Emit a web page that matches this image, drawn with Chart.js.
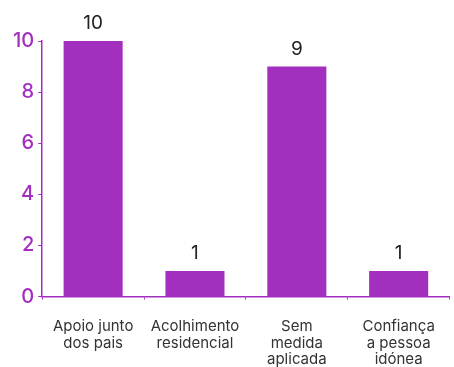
<!DOCTYPE html>
<html><head><meta charset="utf-8">
<script src="https://cdn.jsdelivr.net/npm/chart.js@4.4.0/dist/chart.umd.min.js"></script>
<style>html,body{margin:0;padding:0;background:#fff;}canvas{display:block;}</style>
</head><body>
<canvas id="c" width="454" height="367"></canvas>
<script>
const categories = [["Apoio junto","dos pais"],["Acolhimento","residencial"],["Sem","medida","aplicada"],["Confiança","a pessoa","idónea"]];
const values = [10, 1, 9, 1];
const yTicks = [0, 2, 4, 6, 8, 10];

const purple = '#A32FBF';
const valueLabels = {
  id: 'valueLabels',
  afterDatasetsDraw(chart) {
    const ctx = chart.ctx;
    const meta = chart.getDatasetMeta(0);
    ctx.save();
    ctx.font = '19px Inter';
    ctx.fillStyle = '#222';
    ctx.textAlign = 'center';
    ctx.textBaseline = 'bottom';
    meta.data.forEach((bar, i) => {
      ctx.fillText(String(values[i]), bar.x, bar.y - 8);
    });
    ctx.restore();
  }
};

new Chart(document.getElementById('c'), {
  type: 'bar',
  data: {
    labels: categories,
    datasets: [{ data: values, backgroundColor: purple, barPercentage: 0.58, categoryPercentage: 1 }]
  },
  options: {
    responsive: false,
    animation: false,
    layout: { padding: { top: 41, left: 9, right: 1, bottom: -20 } },
    plugins: { legend: { display: false }, tooltip: { enabled: false } },
    scales: {
      x: {
        grid: { drawOnChartArea: false, drawTicks: true, tickLength: 3, color: purple, offset: true },
        border: { display: true, color: purple, width: 1.5 },
        ticks: { color: '#333', font: { family: 'Inter', size: 15, lineHeight: 1.1 }, padding: 19, maxRotation: 0, autoSkip: false }
      },
      y: {
        min: 0, max: 10,
        afterBuildTicks(axis) { axis.ticks = yTicks.map(v => ({ value: v })); },
        grid: { drawOnChartArea: false, drawTicks: true, tickLength: 4, color: purple },
        border: { display: true, color: purple, width: 1.5 },
        ticks: { color: purple, font: { family: 'Inter', size: 20, weight: '500' }, padding: 4 }
      }
    }
  },
  plugins: [valueLabels]
});
</script>
</body></html>
